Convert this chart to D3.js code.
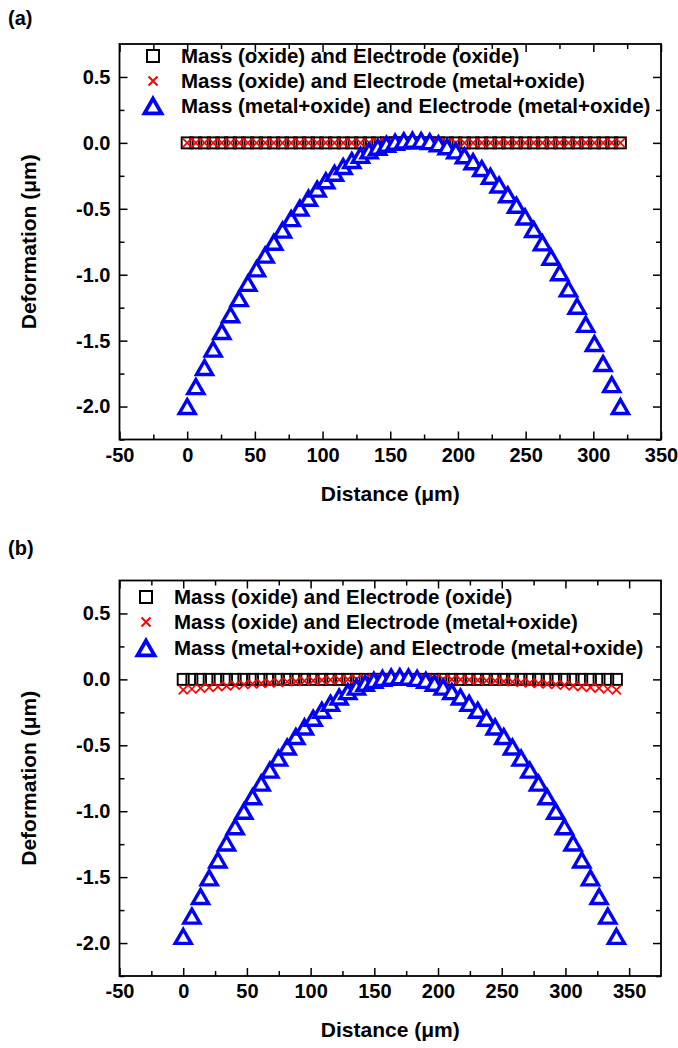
<!DOCTYPE html>
<html>
<head>
<meta charset="utf-8">
<script src="https://cdn.jsdelivr.net/npm/d3@7"></script>
<style>
  body { margin: 0; background: #fff; }
  text { font-family: "Liberation Sans", Arial, sans-serif; font-weight: bold; }
</style>
</head>
<body>
<script>
// ---- data ----
var seriesNames = [
  "Mass (oxide) and Electrode (oxide)",
  "Mass (oxide) and Electrode (metal+oxide)",
  "Mass (metal+oxide) and Electrode (metal+oxide)"
];

var xTicksA = [-50, 0, 50, 100, 150, 200, 250, 300, 350];
var xTicksB = [-50, 0, 50, 100, 150, 200, 250, 300, 350];
var yTicks = [-2.0, -1.5, -1.0, -0.5, 0.0, 0.5];

// panel (a)
var distA = [0, 6.4, 12.8, 19.2, 25.6, 32, 38.4, 44.8, 51.2, 57.6, 64, 70.4, 76.8, 83.2, 89.6, 96,
  102.4, 108.8, 115.2, 121.6, 128, 134.4, 140.8, 147.2, 153.6, 160, 166.4, 172.8, 179.2, 185.6, 192,
  198.4, 204.8, 211.2, 217.6, 224, 230.4, 236.8, 243.2, 249.6, 256, 262.4, 268.8, 275.2, 281.6, 288,
  294.4, 300.8, 307.2, 313.6, 320];
var oxOxA = [0, 0, 0, 0, 0, 0, 0, 0, 0, 0, 0, 0, 0, 0, 0, 0, 0, 0, 0, 0, 0, 0, 0, 0, 0, 0,
  0, 0, 0, 0, 0, 0, 0, 0, 0, 0, 0, 0, 0, 0, 0, 0, 0, 0, 0, 0, 0, 0, 0, 0, 0];
var oxMoA = [0, 0, 0, 0, 0, 0, 0, 0, 0, 0, 0, 0, 0, 0, 0, 0, 0, 0, 0, 0, 0, 0, 0, 0, 0, 0,
  0, 0, 0, 0, 0, 0, 0, 0, 0, 0, 0, 0, 0, 0, 0, 0, 0, 0, 0, 0, 0, 0, 0, 0, 0];
var moMoA = [-2.000, -1.849, -1.704, -1.565, -1.431, -1.304, -1.182, -1.066, -0.956, -0.852,
  -0.754, -0.662, -0.575, -0.495, -0.420, -0.351, -0.288, -0.231, -0.180, -0.134, -0.095, -0.061,
  -0.033, -0.011, 0.005, 0.015, 0.020, 0.018, 0.009, -0.007, -0.030, -0.061, -0.098, -0.143,
  -0.195, -0.254, -0.320, -0.394, -0.474, -0.562, -0.657, -0.759, -0.868, -0.985, -1.108, -1.239,
  -1.377, -1.522, -1.674, -1.834, -2.000];

// panel (b)
var distB = [0, 6.8, 13.6, 20.4, 27.2, 34, 40.8, 47.6, 54.4, 61.2, 68, 74.8, 81.6, 88.4, 95.2, 102,
  108.8, 115.6, 122.4, 129.2, 136, 142.8, 149.6, 156.4, 163.2, 170, 176.8, 183.6, 190.4, 197.2, 204,
  210.8, 217.6, 224.4, 231.2, 238, 244.8, 251.6, 258.4, 265.2, 272, 278.8, 285.6, 292.4, 299.2, 306,
  312.8, 319.6, 326.4, 333.2, 340];
var oxOxB = [0, 0, 0, 0, 0, 0, 0, 0, 0, 0, 0, 0, 0, 0, 0, 0, 0, 0, 0, 0, 0, 0, 0, 0, 0, 0,
  0, 0, 0, 0, 0, 0, 0, 0, 0, 0, 0, 0, 0, 0, 0, 0, 0, 0, 0, 0, 0, 0, 0, 0, 0];
var oxMoB = [-0.080, -0.073, -0.067, -0.061, -0.055, -0.049, -0.044, -0.039, -0.034, -0.030,
  -0.026, -0.022, -0.018, -0.015, -0.011, -0.009, -0.006, -0.004, -0.002, 0.000, 0.002, 0.003,
  0.004, 0.004, 0.005, 0.005, 0.005, 0.004, 0.004, 0.003, 0.002, 0.000, -0.002, -0.004, -0.006,
  -0.009, -0.011, -0.015, -0.018, -0.022, -0.026, -0.030, -0.034, -0.039, -0.044, -0.049, -0.055,
  -0.061, -0.067, -0.073, -0.080];
var moMoB = [-1.950, -1.796, -1.647, -1.506, -1.370, -1.241, -1.118, -1.001, -0.891, -0.787,
  -0.689, -0.598, -0.513, -0.434, -0.361, -0.295, -0.235, -0.182, -0.134, -0.093, -0.059, -0.030,
  -0.008, 0.007, 0.017, 0.020, 0.017, 0.007, -0.008, -0.030, -0.059, -0.093, -0.134, -0.182,
  -0.235, -0.295, -0.361, -0.434, -0.513, -0.598, -0.689, -0.787, -0.891, -1.001, -1.118, -1.241,
  -1.370, -1.506, -1.647, -1.796, -1.950];

var svgWidth = 678;
var svgHeight = 1048;

var svg = d3.select("body")
  .append("svg")
  .attr("width", svgWidth)
  .attr("height", svgHeight);

// plain hyphen for negatives, like the original
var fmtX = function(d) { return d3.format("d")(d).replace("\u2212", "-"); };
var fmtY = function(d) { return d3.format(".1f")(d).replace("\u2212", "-"); };

// triangle path centred on its bounding box
function triPath(w) {
  var h = w * 0.87;
  return "M0," + (-h / 2) + "L" + (w / 2) + "," + (h / 2) + "L" + (-w / 2) + "," + (h / 2) + "Z";
}

function drawSquares(g, pts, size, sw) {
  g.selectAll(null)
    .data(pts)
    .enter()
    .append("rect")
    .attr("x", function(d) { return d[0] - size / 2; })
    .attr("y", function(d) { return d[1] - size / 2; })
    .attr("width", size)
    .attr("height", size)
    .style("fill", "none")
    .style("stroke", "black")
    .style("stroke-width", sw);
}

function drawCrosses(g, pts, size, sw) {
  g.selectAll(null)
    .data(pts)
    .enter()
    .append("path")
    .attr("d", function(d) {
      var s = size / 2;
      return "M" + (d[0] - s) + "," + (d[1] - s) + "L" + (d[0] + s) + "," + (d[1] + s) +
        "M" + (d[0] - s) + "," + (d[1] + s) + "L" + (d[0] + s) + "," + (d[1] - s);
    })
    .style("fill", "none")
    .style("stroke", "red")
    .style("stroke-width", sw);
}

function drawTriangles(g, pts, size, sw) {
  g.selectAll(null)
    .data(pts)
    .enter()
    .append("path")
    .attr("d", triPath(size))
    .attr("transform", function(d) { return "translate(" + d[0] + "," + d[1] + ")"; })
    .style("fill", "white")
    .style("stroke", "blue")
    .style("stroke-width", sw)
    .style("stroke-linejoin", "miter");
}

function panel(opt) {
  var left = 119.5, right = 661;
  var xScale = d3.scaleLinear().domain(opt.xDomain).range([left, right]);
  var yScale = d3.scaleLinear().domain([-2.25, 0.75]).range([opt.bottom, opt.top]);

  var g = svg.append("g");

  var xMinor = [];
  for (var v = opt.xDomain[0] + 25; v < opt.xDomain[1]; v += 50) xMinor.push(v);
  var yMinor = [-2.25, -1.75, -1.25, -0.75, -0.25, 0.25];

  // bottom axis, ticks pointing in
  g.append("g")
    .attr("transform", "translate(0," + opt.bottom + ")")
    .call(d3.axisBottom(xScale).tickValues(opt.xTicks).tickSize(-8).tickPadding(8)
      .tickFormat(fmtX))
    .call(function(a) {
      a.select(".domain").remove();
      a.selectAll("text").style("font-size", "20px");
    });
  g.append("g")
    .attr("transform", "translate(0," + opt.bottom + ")")
    .call(d3.axisBottom(xScale).tickValues(xMinor).tickSize(-5).tickFormat(""))
    .call(function(a) { a.select(".domain").remove(); });

  // top axis mirror
  g.append("g")
    .attr("transform", "translate(0," + opt.top + ")")
    .call(d3.axisTop(xScale).tickValues(opt.xTicks).tickSize(-8).tickFormat(""))
    .call(function(a) { a.select(".domain").remove(); });
  g.append("g")
    .attr("transform", "translate(0," + opt.top + ")")
    .call(d3.axisTop(xScale).tickValues(xMinor).tickSize(-5).tickFormat(""))
    .call(function(a) { a.select(".domain").remove(); });

  // left axis
  g.append("g")
    .attr("transform", "translate(" + left + ",0)")
    .call(d3.axisLeft(yScale).tickValues(yTicks).tickSize(-8).tickPadding(9)
      .tickFormat(fmtY))
    .call(function(a) {
      a.select(".domain").remove();
      a.selectAll("text").style("font-size", "20px");
    });
  g.append("g")
    .attr("transform", "translate(" + left + ",0)")
    .call(d3.axisLeft(yScale).tickValues(yMinor).tickSize(-5).tickFormat(""))
    .call(function(a) { a.select(".domain").remove(); });

  // right axis mirror
  g.append("g")
    .attr("transform", "translate(" + right + ",0)")
    .call(d3.axisRight(yScale).tickValues(yTicks).tickSize(-8).tickFormat(""))
    .call(function(a) { a.select(".domain").remove(); });
  g.append("g")
    .attr("transform", "translate(" + right + ",0)")
    .call(d3.axisRight(yScale).tickValues(yMinor).tickSize(-5).tickFormat(""))
    .call(function(a) { a.select(".domain").remove(); });

  g.selectAll(".tick line").style("stroke", "black").style("stroke-width", 1.5);
  g.selectAll(".tick text").style("fill", "black");

  // frame
  g.append("rect")
    .attr("x", left)
    .attr("y", opt.top)
    .attr("width", right - left)
    .attr("height", opt.bottom - opt.top)
    .style("fill", "none")
    .style("stroke", "black")
    .style("stroke-width", 1.8);

  // data
  var sq = opt.dist.map(function(d, i) { return [xScale(d), yScale(opt.s1[i])]; });
  var cr = opt.dist.map(function(d, i) { return [xScale(d), yScale(opt.s2[i])]; });
  var tr = opt.dist.map(function(d, i) { return [xScale(d), yScale(opt.s3[i])]; });
  drawSquares(g.append("g"), sq, 11, 1.9);
  drawCrosses(g.append("g"), cr, 9, 1.7);
  drawTriangles(g.append("g"), tr, 16, 3.4);

  // legend
  var lg = g.append("g");
  var rows = opt.rows;
  drawSquares(lg, [[opt.legX, rows[0]]], 12, 2);
  drawCrosses(lg, [[opt.legX, rows[1]]], 9, 2);
  drawTriangles(lg, [[opt.legX, rows[2]]], 17, 3.8);
  lg.selectAll(".lbl")
    .data(seriesNames)
    .enter()
    .append("text")
    .attr("class", "lbl")
    .attr("x", opt.legX + 28)
    .attr("y", function(d, i) { return rows[i]; })
    .attr("dy", "0.36em")
    .style("font-size", "20.5px")
    .text(function(d) { return d; });

  // axis titles
  g.append("text")
    .attr("x", (left + right) / 2)
    .attr("y", opt.bottom + 61)
    .attr("text-anchor", "middle")
    .style("font-size", "21px")
    .text("Distance (\u03bcm)");

  g.append("text")
    .attr("transform", "translate(28," + ((opt.top + opt.bottom) / 2) + ") rotate(-90)")
    .attr("text-anchor", "middle")
    .attr("dy", "0.36em")
    .style("font-size", "21px")
    .text("Deformation (\u03bcm)");

  // panel letter
  svg.append("text")
    .attr("x", 8)
    .attr("y", opt.letterY)
    .style("font-size", "20px")
    .text(opt.letter);
}

panel({ letter: "(a)", letterY: 25, top: 44, bottom: 439.5, xDomain: [-50, 350], xTicks: xTicksA,
  dist: distA, s1: oxOxA, s2: oxMoA, s3: moMoA, legX: 153, rows: [56, 81, 106] });
panel({ letter: "(b)", letterY: 555, top: 580.5, bottom: 976, xDomain: [-50, 375], xTicks: xTicksB,
  dist: distB, s1: oxOxB, s2: oxMoB, s3: moMoB, legX: 146, rows: [597, 622, 648] });
</script>
</body>
</html>
